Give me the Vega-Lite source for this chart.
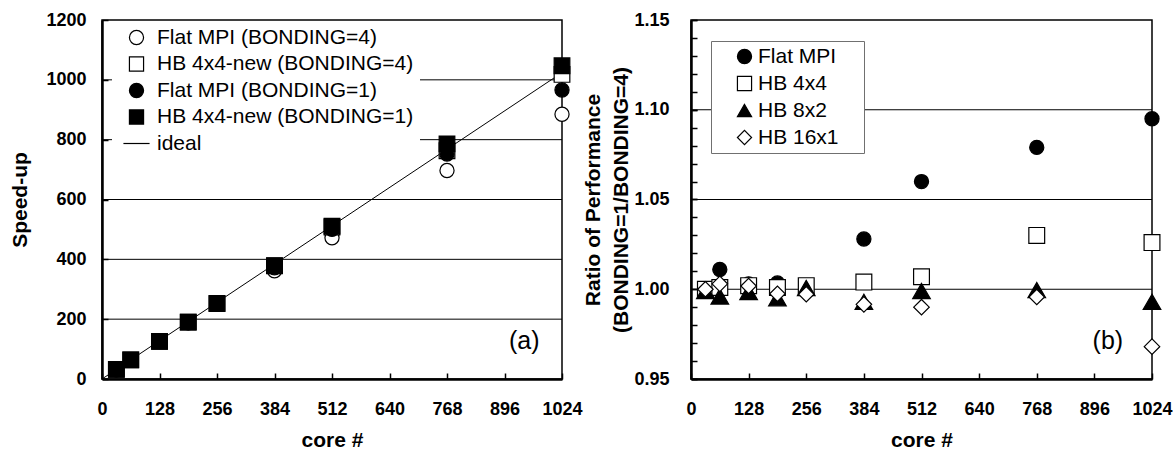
{
  "$schema": "https://vega.github.io/schema/vega-lite/v6.json",
  "background": "white",
  "padding": {"left": 9, "top": 10, "right": 0, "bottom": 0},
  "bounds": "flush",
  "spacing": 129,
  "resolve": {"scale": {"shape": "independent", "fill": "independent", "stroke": "independent"}, "legend": {"shape": "independent", "fill": "independent", "stroke": "independent"}},
  "datasets": {
    "speedup": [
      {"core": 32, "run": "Flat MPI (BONDING=4)", "speedup": 31},
      {"core": 64, "run": "Flat MPI (BONDING=4)", "speedup": 63},
      {"core": 128, "run": "Flat MPI (BONDING=4)", "speedup": 125},
      {"core": 192, "run": "Flat MPI (BONDING=4)", "speedup": 188},
      {"core": 256, "run": "Flat MPI (BONDING=4)", "speedup": 250},
      {"core": 384, "run": "Flat MPI (BONDING=4)", "speedup": 362},
      {"core": 512, "run": "Flat MPI (BONDING=4)", "speedup": 472},
      {"core": 768, "run": "Flat MPI (BONDING=4)", "speedup": 697},
      {"core": 1024, "run": "Flat MPI (BONDING=4)", "speedup": 885},
      {"core": 32, "run": "HB 4x4-new (BONDING=4)", "speedup": 32},
      {"core": 64, "run": "HB 4x4-new (BONDING=4)", "speedup": 64},
      {"core": 128, "run": "HB 4x4-new (BONDING=4)", "speedup": 126},
      {"core": 192, "run": "HB 4x4-new (BONDING=4)", "speedup": 190},
      {"core": 256, "run": "HB 4x4-new (BONDING=4)", "speedup": 252},
      {"core": 384, "run": "HB 4x4-new (BONDING=4)", "speedup": 378},
      {"core": 512, "run": "HB 4x4-new (BONDING=4)", "speedup": 508},
      {"core": 768, "run": "HB 4x4-new (BONDING=4)", "speedup": 763},
      {"core": 1024, "run": "HB 4x4-new (BONDING=4)", "speedup": 1018},
      {"core": 32, "run": "Flat MPI (BONDING=1)", "speedup": 31},
      {"core": 64, "run": "Flat MPI (BONDING=1)", "speedup": 64},
      {"core": 128, "run": "Flat MPI (BONDING=1)", "speedup": 126},
      {"core": 192, "run": "Flat MPI (BONDING=1)", "speedup": 189},
      {"core": 256, "run": "Flat MPI (BONDING=1)", "speedup": 251},
      {"core": 384, "run": "Flat MPI (BONDING=1)", "speedup": 372},
      {"core": 512, "run": "Flat MPI (BONDING=1)", "speedup": 500},
      {"core": 768, "run": "Flat MPI (BONDING=1)", "speedup": 752},
      {"core": 1024, "run": "Flat MPI (BONDING=1)", "speedup": 966},
      {"core": 32, "run": "HB 4x4-new (BONDING=1)", "speedup": 32},
      {"core": 64, "run": "HB 4x4-new (BONDING=1)", "speedup": 64},
      {"core": 128, "run": "HB 4x4-new (BONDING=1)", "speedup": 126},
      {"core": 192, "run": "HB 4x4-new (BONDING=1)", "speedup": 190},
      {"core": 256, "run": "HB 4x4-new (BONDING=1)", "speedup": 253},
      {"core": 384, "run": "HB 4x4-new (BONDING=1)", "speedup": 379},
      {"core": 512, "run": "HB 4x4-new (BONDING=1)", "speedup": 511},
      {"core": 768, "run": "HB 4x4-new (BONDING=1)", "speedup": 786},
      {"core": 1024, "run": "HB 4x4-new (BONDING=1)", "speedup": 1047}
    ],
    "ideal": [
      {"core": 0, "speedup": 0},
      {"core": 1024, "speedup": 1024}
    ],
    "gridA": [
      {"speedup": 200}, {"speedup": 400}, {"speedup": 600}, {"speedup": 800}, {"speedup": 1000}
    ],
    "ratio": [
      {"core": 32, "scheme": "Flat MPI", "ratio": 1.000},
      {"core": 64, "scheme": "Flat MPI", "ratio": 1.011},
      {"core": 128, "scheme": "Flat MPI", "ratio": 1.003},
      {"core": 192, "scheme": "Flat MPI", "ratio": 1.0035},
      {"core": 256, "scheme": "Flat MPI", "ratio": 1.002},
      {"core": 384, "scheme": "Flat MPI", "ratio": 1.028},
      {"core": 512, "scheme": "Flat MPI", "ratio": 1.060},
      {"core": 768, "scheme": "Flat MPI", "ratio": 1.079},
      {"core": 1024, "scheme": "Flat MPI", "ratio": 1.095},
      {"core": 32, "scheme": "HB 4x4", "ratio": 1.000},
      {"core": 64, "scheme": "HB 4x4", "ratio": 1.001},
      {"core": 128, "scheme": "HB 4x4", "ratio": 1.002},
      {"core": 192, "scheme": "HB 4x4", "ratio": 1.001},
      {"core": 256, "scheme": "HB 4x4", "ratio": 1.002},
      {"core": 384, "scheme": "HB 4x4", "ratio": 1.004},
      {"core": 512, "scheme": "HB 4x4", "ratio": 1.007},
      {"core": 768, "scheme": "HB 4x4", "ratio": 1.030},
      {"core": 1024, "scheme": "HB 4x4", "ratio": 1.026},
      {"core": 32, "scheme": "HB 8x2", "ratio": 0.999},
      {"core": 64, "scheme": "HB 8x2", "ratio": 0.996},
      {"core": 128, "scheme": "HB 8x2", "ratio": 0.9985},
      {"core": 192, "scheme": "HB 8x2", "ratio": 0.995},
      {"core": 256, "scheme": "HB 8x2", "ratio": 1.0007},
      {"core": 384, "scheme": "HB 8x2", "ratio": 0.993},
      {"core": 512, "scheme": "HB 8x2", "ratio": 0.999},
      {"core": 768, "scheme": "HB 8x2", "ratio": 0.9995},
      {"core": 1024, "scheme": "HB 8x2", "ratio": 0.993},
      {"core": 32, "scheme": "HB 16x1", "ratio": 1.000},
      {"core": 64, "scheme": "HB 16x1", "ratio": 1.003},
      {"core": 128, "scheme": "HB 16x1", "ratio": 1.0018},
      {"core": 192, "scheme": "HB 16x1", "ratio": 0.9975},
      {"core": 256, "scheme": "HB 16x1", "ratio": 0.9972},
      {"core": 384, "scheme": "HB 16x1", "ratio": 0.9916},
      {"core": 512, "scheme": "HB 16x1", "ratio": 0.990},
      {"core": 768, "scheme": "HB 16x1", "ratio": 0.9957},
      {"core": 1024, "scheme": "HB 16x1", "ratio": 0.968}
    ],
    "gridB": [
      {"ratio": 1.00}, {"ratio": 1.05}, {"ratio": 1.10}
    ]
  },
  "hconcat": [
    {
      "width": 460,
      "height": 359,
      "layer": [
        {
          "data": {"name": "gridA"},
          "mark": {"type": "rule", "color": "black", "strokeWidth": 1},
          "encoding": {
            "y": {"field": "speedup", "type": "quantitative"}
          }
        },
        {
          "data": {"name": "ideal"},
          "mark": {"type": "line", "color": "black", "strokeWidth": 1},
          "encoding": {
            "x": {"field": "core", "type": "quantitative"},
            "y": {"field": "speedup", "type": "quantitative"}
          }
        },
        {
          "data": {"name": "speedup"},
          "encoding": {
            "x": {
              "field": "core", "type": "quantitative",
              "scale": {"domain": [0, 1024], "nice": false, "zero": false},
              "axis": {
                "title": "core #",
                "values": [0, 32, 64, 96, 128, 160, 192, 224, 256, 288, 320, 352, 384, 416, 448, 480, 512, 544, 576, 608, 640, 672, 704, 736, 768, 800, 832, 864, 896, 928, 960, 992, 1024],
                "format": "d",
                "labelExpr": "datum.value % 128 === 0 ? datum.label : ''",
                "labelPadding": 27,
                "titlePadding": 11
              }
            },
            "y": {
              "field": "speedup", "type": "quantitative",
              "scale": {"domain": [0, 1200], "nice": false, "zero": false},
              "axis": {
                "title": "Speed-up",
                "values": [0, 50, 100, 150, 200, 250, 300, 350, 400, 450, 500, 550, 600, 650, 700, 750, 800, 850, 900, 950, 1000, 1050, 1100, 1150, 1200],
                "format": "d",
                "labelExpr": "datum.value % 200 === 0 ? datum.label : ''",
                "labelPadding": 22,
                "titlePadding": 15
              }
            },
            "shape": {
              "field": "run", "type": "nominal",
              "scale": {
                "domain": ["Flat MPI (BONDING=4)", "HB 4x4-new (BONDING=4)", "Flat MPI (BONDING=1)", "HB 4x4-new (BONDING=1)", "ideal"],
                "range": ["circle", "square", "circle", "square", "M-1.85,0L1.85,0"]
              },
              "legend": {
                "orient": "none", "legendX": 10, "legendY": 1, "title": null,
                "fillColor": "white", "padding": 6, "symbolOffset": 8, "labelOffset": 10,
                "labelFontSize": 21, "labelFont": "Liberation Sans", "labelColor": "black", "labelLimit": 400,
                "symbolSize": 200, "symbolStrokeWidth": 1.2, "rowPadding": 4.5
              }
            },
            "fill": {
              "field": "run", "type": "nominal",
              "scale": {
                "domain": ["Flat MPI (BONDING=4)", "HB 4x4-new (BONDING=4)", "Flat MPI (BONDING=1)", "HB 4x4-new (BONDING=1)", "ideal"],
                "range": ["white", "white", "black", "black", "black"]
              },
              "legend": {
                "orient": "none", "legendX": 10, "legendY": 1, "title": null,
                "fillColor": "white", "padding": 6, "symbolOffset": 8, "labelOffset": 10,
                "labelFontSize": 21, "labelFont": "Liberation Sans", "labelColor": "black", "labelLimit": 400,
                "symbolSize": 200, "symbolStrokeWidth": 1.2, "rowPadding": 4.5
              }
            },
            "stroke": {
              "field": "run", "type": "nominal",
              "scale": {
                "domain": ["Flat MPI (BONDING=4)", "HB 4x4-new (BONDING=4)", "Flat MPI (BONDING=1)", "HB 4x4-new (BONDING=1)", "ideal"],
                "range": ["black", "black", "black", "black", "black"]
              },
              "legend": {
                "orient": "none", "legendX": 10, "legendY": 1, "title": null,
                "fillColor": "white", "padding": 6, "symbolOffset": 8, "labelOffset": 10,
                "labelFontSize": 21, "labelFont": "Liberation Sans", "labelColor": "black", "labelLimit": 400,
                "symbolSize": 200, "symbolStrokeWidth": 1.2, "rowPadding": 4.5
              }
            }
          },
          "layer": [
            {
              "transform": [{"filter": "datum.run === 'Flat MPI (BONDING=4)'"}],
              "mark": {"type": "point", "filled": true, "strokeWidth": 1.2, "opacity": 1, "size": 200}
            },
            {
              "transform": [{"filter": "datum.run === 'HB 4x4-new (BONDING=4)'"}],
              "mark": {"type": "point", "filled": true, "strokeWidth": 1.2, "opacity": 1, "size": 245}
            },
            {
              "transform": [{"filter": "datum.run === 'Flat MPI (BONDING=1)'"}],
              "mark": {"type": "point", "filled": true, "strokeWidth": 1.2, "opacity": 1, "size": 200}
            },
            {
              "transform": [{"filter": "datum.run === 'HB 4x4-new (BONDING=1)'"}],
              "mark": {"type": "point", "filled": true, "strokeWidth": 1.2, "opacity": 1, "size": 245}
            }
          ]
        },
        {
          "data": {"values": [{}]},
          "mark": {"type": "text", "text": "(a)", "font": "Liberation Sans", "fontSize": 25, "align": "center", "baseline": "middle", "color": "black"},
          "encoding": {
            "x": {"datum": 940, "type": "quantitative"},
            "y": {"datum": 127, "type": "quantitative"}
          }
        }
      ]
    },
    {
      "width": 461,
      "height": 359,
      "resolve": {"axis": {"y": "independent"}},
      "layer": [
        {
          "data": {"name": "gridB"},
          "mark": {"type": "rule", "color": "black", "strokeWidth": 1},
          "encoding": {
            "y": {
              "field": "ratio", "type": "quantitative",
              "axis": {
                "orient": "left",
                "values": [0.95, 0.96, 0.97, 0.98, 0.99, 1.0, 1.01, 1.02, 1.03, 1.04, 1.05, 1.06, 1.07, 1.08, 1.09, 1.1, 1.11, 1.12, 1.13, 1.14, 1.15],
                "labels": false,
                "domain": false,
                "title": null
              }
            }
          }
        },
        {
          "data": {"name": "ratio"},
          "encoding": {
            "x": {
              "field": "core", "type": "quantitative",
              "scale": {"domain": [0, 1024], "nice": false, "zero": false},
              "axis": {
                "title": "core #",
                "values": [0, 32, 64, 96, 128, 160, 192, 224, 256, 288, 320, 352, 384, 416, 448, 480, 512, 544, 576, 608, 640, 672, 704, 736, 768, 800, 832, 864, 896, 928, 960, 992, 1024],
                "format": "d",
                "labelExpr": "datum.value % 128 === 0 ? datum.label : ''",
                "labelPadding": 27,
                "titlePadding": 11
              }
            },
            "y": {
              "field": "ratio", "type": "quantitative",
              "scale": {"domain": [0.95, 1.15], "nice": false, "zero": false},
              "axis": {
                "orient": "left",
                "title": ["Ratio of Performance", "(BONDING=1/BONDING=4)"],
                "titleLineHeight": 28,
                "values": [0.95, 1.0, 1.05, 1.1, 1.15],
                "format": ".2f",
                "labelPadding": 28,
                "titlePadding": 2
              }
            },
            "shape": {
              "field": "scheme", "type": "nominal",
              "scale": {
                "domain": ["Flat MPI", "HB 4x4", "HB 8x2", "HB 16x1"],
                "range": ["circle", "square", "triangle-up", "diamond"]
              },
              "legend": {
                "orient": "none", "legendX": 20, "legendY": 21, "title": "\u00a0", "titleOrient": "right", "titlePadding": 20, "titleFontSize": 4,
                "fillColor": "white", "strokeColor": "#707070", "padding": 5, "symbolOffset": 18, "labelOffset": 3,
                "labelFontSize": 21, "labelFont": "Liberation Sans", "labelColor": "black", "labelLimit": 400,
                "symbolSize": 200, "symbolStrokeWidth": 1.2, "rowPadding": 5
              }
            },
            "fill": {
              "field": "scheme", "type": "nominal",
              "scale": {
                "domain": ["Flat MPI", "HB 4x4", "HB 8x2", "HB 16x1"],
                "range": ["black", "white", "black", "white"]
              },
              "legend": {
                "orient": "none", "legendX": 20, "legendY": 21, "title": "\u00a0", "titleOrient": "right", "titlePadding": 20, "titleFontSize": 4,
                "fillColor": "white", "strokeColor": "#707070", "padding": 5, "symbolOffset": 18, "labelOffset": 3,
                "labelFontSize": 21, "labelFont": "Liberation Sans", "labelColor": "black", "labelLimit": 400,
                "symbolSize": 200, "symbolStrokeWidth": 1.2, "rowPadding": 5
              }
            },
            "stroke": {
              "field": "scheme", "type": "nominal",
              "scale": {
                "domain": ["Flat MPI", "HB 4x4", "HB 8x2", "HB 16x1"],
                "range": ["black", "black", "black", "black"]
              },
              "legend": {
                "orient": "none", "legendX": 20, "legendY": 21, "title": "\u00a0", "titleOrient": "right", "titlePadding": 20, "titleFontSize": 4,
                "fillColor": "white", "strokeColor": "#707070", "padding": 5, "symbolOffset": 18, "labelOffset": 3,
                "labelFontSize": 21, "labelFont": "Liberation Sans", "labelColor": "black", "labelLimit": 400,
                "symbolSize": 200, "symbolStrokeWidth": 1.2, "rowPadding": 5
              }
            }
          },
          "layer": [
            {
              "transform": [{"filter": "datum.scheme === 'Flat MPI'"}],
              "mark": {"type": "point", "filled": true, "strokeWidth": 1.2, "opacity": 1, "size": 200}
            },
            {
              "transform": [{"filter": "datum.scheme === 'HB 4x4'"}],
              "mark": {"type": "point", "filled": true, "strokeWidth": 1.2, "opacity": 1, "size": 250}
            },
            {
              "transform": [{"filter": "datum.scheme === 'HB 8x2'"}],
              "mark": {"type": "point", "filled": true, "strokeWidth": 1.2, "opacity": 1, "size": 310}
            },
            {
              "transform": [{"filter": "datum.scheme === 'HB 16x1'"}],
              "mark": {"type": "point", "filled": true, "strokeWidth": 1.2, "opacity": 1, "size": 240}
            }
          ]
        },
        {
          "data": {"values": [{}]},
          "mark": {"type": "text", "text": "(b)", "font": "Liberation Sans", "fontSize": 25, "align": "center", "baseline": "middle", "color": "black"},
          "encoding": {
            "x": {"datum": 926, "type": "quantitative"},
            "y": {"datum": 0.9712, "type": "quantitative", "axis": null}
          }
        }
      ]
    }
  ],
  "config": {
    "font": "Liberation Sans",
    "view": {"stroke": "black", "strokeWidth": 1.5},
    "axis": {
      "grid": false,
      "domainColor": "black",
      "domainWidth": 2.5,
      "tickColor": "black",
      "tickWidth": 1.5,
      "tickSize": -6,
      "labelOverlap": false,
      "labelFlush": false,
      "labelBound": false,
      "labelFont": "Liberation Sans",
      "labelFontWeight": "bold",
      "labelFontSize": 18,
      "labelColor": "black",
      "titleFont": "Liberation Sans",
      "titleFontWeight": "bold",
      "titleFontSize": 21,
      "titleColor": "black"
    }
  }
}
